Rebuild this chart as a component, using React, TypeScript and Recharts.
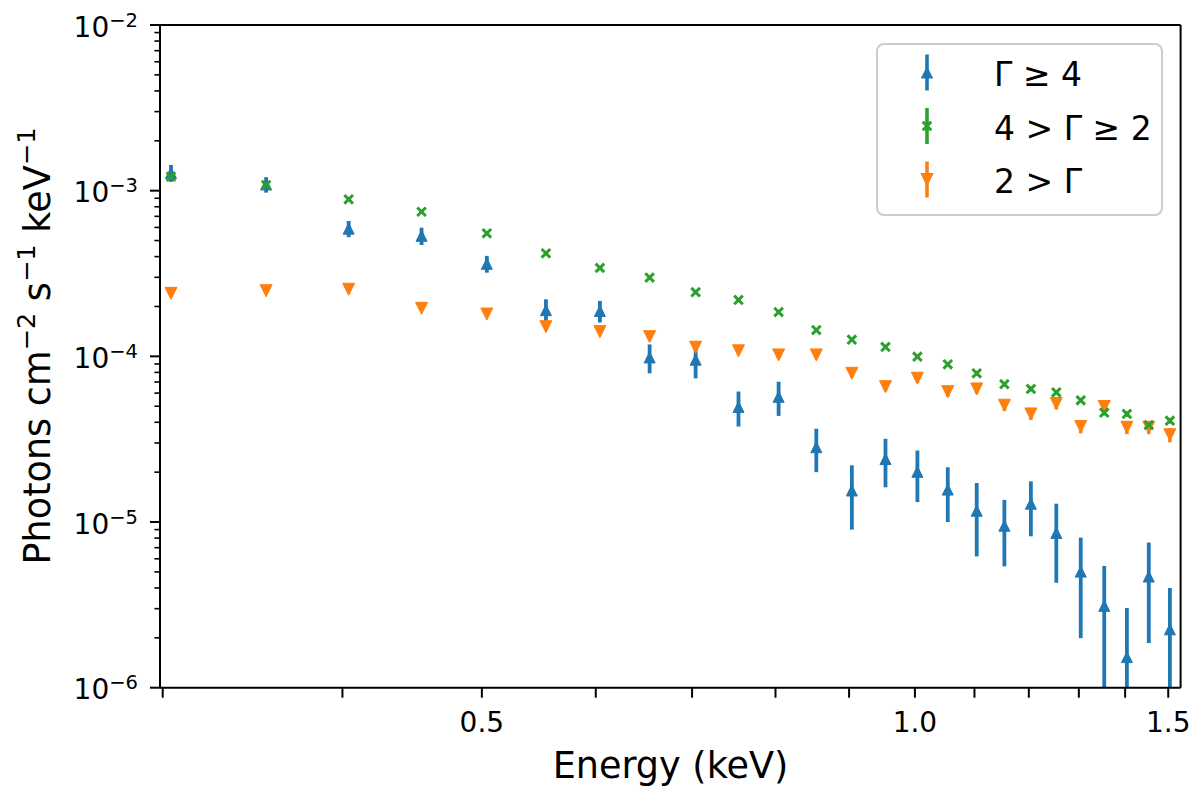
import React from "react";
import {
  ScatterChart,
  Scatter,
  XAxis,
  YAxis,
  ErrorBar,
  ReferenceLine,
  Legend,
  Label,
} from "recharts";

// bin energies (keV)
const energies = [
  0.304, 0.354, 0.404, 0.454, 0.504, 0.554, 0.604, 0.654, 0.704, 0.754, 0.804, 0.854, 0.904,
  0.954, 1.004, 1.054, 1.104, 1.154, 1.204, 1.254, 1.304, 1.354, 1.404, 1.454, 1.504,
];

// Γ ≥ 4
const steepFlux = [
  1.28e-3, 1.09e-3, 5.9e-4, 5.34e-4, 3.62e-4, 1.9e-4, 1.88e-4, 9.85e-5, 9.55e-5, 4.95e-5,
  5.7e-5, 2.83e-5, 1.55e-5, 2.4e-5, 2.01e-5, 1.57e-5, 1.17e-5, 9.5e-6, 1.29e-5, 8.6e-6,
  5.02e-6, 3.12e-6, 1.53e-6, 4.69e-6, 2.25e-6,
];
const steepErr = [
  1.5e-4, 1.17e-4, 6.6e-5, 6.4e-5, 4.2e-5, 3.1e-5, 2.8e-5, 1.95e-5, 2.18e-5, 1.18e-5, 1.33e-5,
  8.3e-6, 6.5e-6, 7.8e-6, 6.9e-6, 5.7e-6, 5.5e-6, 4.1e-6, 4.7e-6, 4.3e-6, 3.03e-6, 2.31e-6,
  1.5e-6, 2.83e-6, 1.75e-6,
];

// 4 > Γ ≥ 2
const midFlux = [
  1.215e-3, 1.082e-3, 8.87e-4, 7.46e-4, 5.53e-4, 4.19e-4, 3.42e-4, 2.99e-4, 2.44e-4, 2.19e-4,
  1.85e-4, 1.44e-4, 1.26e-4, 1.14e-4, 9.95e-5, 8.95e-5, 7.9e-5, 6.79e-5, 6.36e-5, 6.07e-5,
  5.43e-5, 4.57e-5, 4.49e-5, 3.85e-5, 4.09e-5,
];
const midErr = [
  3.5e-5, 3.2e-5, 2.5e-5, 2.1e-5, 1.5e-5, 1.1e-5, 9e-6, 8e-6, 6.5e-6, 6e-6, 5e-6, 4e-6, 3.6e-6,
  3.3e-6, 3e-6, 2.8e-6, 2.5e-6, 2.2e-6, 2.1e-6, 2e-6, 1.9e-6, 1.7e-6, 1.7e-6, 1.5e-6, 1.6e-6,
];

// 2 > Γ
const flatFlux = [
  2.4e-4, 2.49e-4, 2.54e-4, 1.95e-4, 1.8e-4, 1.51e-4, 1.41e-4, 1.315e-4, 1.135e-4, 1.08e-4,
  1.02e-4, 1.02e-4, 7.9e-5, 6.56e-5, 7.38e-5, 6.12e-5, 6.36e-5, 5.07e-5, 4.49e-5, 5.19e-5,
  3.77e-5, 4.98e-5, 3.73e-5, 3.73e-5, 3.36e-5,
];
const flatErr = [
  1e-5, 9e-6, 8.5e-6, 7e-6, 6.5e-6, 6e-6, 5.5e-6, 5.5e-6, 5e-6, 5e-6, 5e-6, 5e-6, 4.5e-6, 4e-6,
  4.5e-6, 4e-6, 4.2e-6, 3.8e-6, 3.6e-6, 4e-6, 3.4e-6, 3.9e-6, 3.4e-6, 3.4e-6, 3.3e-6,
];

const seriesNames = ["Γ ≥ 4", "4 > Γ ≥ 2", "2 > Γ"];

const xTickValues = [0.3, 0.4, 0.5, 0.6, 0.7, 0.8, 0.9, 1.0, 1.1, 1.2, 1.3, 1.4, 1.5];
const xTickLabels = ["", "", "0.5", "", "", "", "", "1.0", "", "", "", "", "1.5"];
const yMajorTicks = [1e-6, 1e-5, 1e-4, 1e-3, 1e-2];
const yMajorExps = ["−6", "−5", "−4", "−3", "−2"];
const yMinorSteps = [2, 3, 4, 5, 6, 7, 8, 9];

const X_DOMAIN: [number, number] = [0.2987, 1.53];
const Y_DOMAIN: [number, number] = [1e-6, 1e-2];

const BLUE = "#1f77b4";
const ORANGE = "#ff7f0e";
const GREEN = "#2ca02c";
const FONT = "'DejaVu Sans', sans-serif";

const yTicks = [
  ...yMajorTicks,
  ...yMajorTicks.slice(0, -1).flatMap((m) => yMinorSteps.map((s) => m * s)),
];

function toPoints(values: number[], errors: number[]) {
  // clip the lower end of each bar to the bottom of the log axis
  return energies.map((x, i) => ({
    x,
    y: values[i],
    err: [Math.min(errors[i], values[i] - Y_DOMAIN[0]), errors[i]],
  }));
}

const steepData = toPoints(steepFlux, steepErr);
const midData = toPoints(midFlux, midErr);
const flatData = toPoints(flatFlux, flatErr);

const TriUp = ({ cx, cy, fill, s = 5.5 }: any) => (
  <path
    d={`M${cx},${cy - s}L${cx - s},${cy + s}L${cx + s},${cy + s}Z`}
    fill={fill}
    stroke={fill}
    strokeWidth={1}
  />
);

const TriDown = ({ cx, cy, fill, s = 6 }: any) => (
  <path
    d={`M${cx},${cy + s}L${cx - s},${cy - s}L${cx + s},${cy - s}Z`}
    fill={fill}
    stroke={fill}
    strokeWidth={1}
  />
);

const Cross = ({ cx, cy, fill, s = 4.3 }: any) => (
  <path
    d={`M${cx - s},${cy - s}L${cx + s},${cy + s}M${cx - s},${cy + s}L${cx + s},${cy - s}`}
    stroke={fill}
    strokeWidth={3}
    fill="none"
  />
);

const XTick = ({ x, y, payload }: any) => {
  const idx = xTickValues.findIndex((v) => Math.abs(v - payload.value) < 1e-9);
  const label = idx >= 0 ? xTickLabels[idx] : "";
  return (
    <g>
      <line x1={x} x2={x} y1={y} y2={y + 10} stroke="#000" strokeWidth={2} />
      {label && (
        <text x={x} y={y + 44.6} textAnchor="middle" fontSize={28} fontFamily={FONT} fill="#000">
          {label}
        </text>
      )}
    </g>
  );
};

const YTick = ({ x, y, payload }: any) => {
  const idx = yMajorTicks.findIndex((v) => Math.abs(v / payload.value - 1) < 1e-6);
  const major = idx >= 0;
  return (
    <g>
      <line
        x1={x - (major ? 10 : 5.6)}
        x2={x}
        y1={y}
        y2={y}
        stroke="#000"
        strokeWidth={major ? 2 : 1.6}
      />
      {major && (
        <text x={x - 22} y={y + 11.5} textAnchor="end" fontSize={28} fontFamily={FONT} fill="#000">
          10
          <tspan dy={-10} fontSize={19.5}>
            {yMajorExps[idx]}
          </tspan>
        </text>
      )}
    </g>
  );
};

const YTitle = () => (
  <text
    x={50}
    y={346}
    transform="rotate(-90, 50, 346)"
    textAnchor="middle"
    fontSize={36.6}
    fontFamily={FONT}
    fill="#000"
  >
    Photons cm
    <tspan dy={-15} fontSize={25.6}>−2</tspan>
    <tspan dy={15}> s</tspan>
    <tspan dy={-15} fontSize={25.6}>−1</tspan>
    <tspan dy={15}> keV</tspan>
    <tspan dy={-15} fontSize={25.6}>−1</tspan>
  </text>
);

const XTitle = () => (
  <text x={670.5} y={778} textAnchor="middle" fontSize={36.6} fontFamily={FONT} fill="#000">
    Energy (keV)
  </text>
);

const legendRows = [
  { name: seriesNames[0], color: BLUE, Marker: TriUp },
  { name: seriesNames[1], color: GREEN, Marker: Cross },
  { name: seriesNames[2], color: ORANGE, Marker: TriDown },
];

const LegendBox = () => (
  <svg width={288} height={174} style={{ display: "block" }}>
    <rect
      x={1}
      y={1}
      width={285}
      height={171}
      rx={7}
      fill="#fff"
      fillOpacity={0.8}
      stroke="#cccccc"
      strokeWidth={2}
    />
    {legendRows.map((r, i) => {
      const cy = 29.5 + i * 53.5;
      return (
        <g key={r.name}>
          <line x1={51} x2={51} y1={cy - 18} y2={cy + 18} stroke={r.color} strokeWidth={3.6} />
          <r.Marker cx={51} cy={cy} fill={r.color} />
          <text x={118} y={cy + 13.5} fontSize={33} fontFamily={FONT} fill="#000">
            {r.name}
          </text>
        </g>
      );
    })}
  </svg>
);

export default function App() {
  return (
    <div
      style={{
        position: "absolute",
        left: 0,
        top: 0,
        width: 1200,
        height: 793,
        background: "#fff",
        fontFamily: FONT,
      }}
    >
      <ScatterChart width={1200} height={793} margin={{ top: 25, right: 19.4, bottom: 0, left: 0 }}>
        <XAxis
          type="number"
          dataKey="x"
          scale="log"
          domain={X_DOMAIN}
          allowDataOverflow
          ticks={xTickValues}
          interval={0}
          tick={<XTick />}
          tickLine={false}
          tickSize={0}
          tickMargin={0}
          height={105.3}
          axisLine={{ stroke: "#000", strokeWidth: 2 }}
        >
          <Label content={<XTitle />} />
        </XAxis>
        <YAxis
          type="number"
          dataKey="y"
          scale="log"
          domain={Y_DOMAIN}
          allowDataOverflow
          ticks={yTicks}
          interval={0}
          tick={<YTick />}
          tickLine={false}
          tickSize={0}
          tickMargin={0}
          width={160}
          axisLine={{ stroke: "#000", strokeWidth: 2 }}
        >
          <Label content={<YTitle />} />
        </YAxis>
        <ReferenceLine y={Y_DOMAIN[1]} stroke="#000" strokeWidth={2} ifOverflow="visible" />
        <ReferenceLine x={X_DOMAIN[1]} stroke="#000" strokeWidth={2} ifOverflow="visible" />
        <Scatter
          name={seriesNames[0]}
          data={steepData}
          fill={BLUE}
          shape={(p: any) => <TriUp cx={p.cx} cy={p.cy} fill={BLUE} />}
          isAnimationActive={false}
        >
          <ErrorBar
            dataKey="err"
            direction="y"
            width={0}
            stroke={BLUE}
            strokeWidth={3.8}
            isAnimationActive={false}
          />
        </Scatter>
        <Scatter
          name={seriesNames[2]}
          data={flatData}
          fill={ORANGE}
          shape={(p: any) => <TriDown cx={p.cx} cy={p.cy} fill={ORANGE} />}
          isAnimationActive={false}
        >
          <ErrorBar
            dataKey="err"
            direction="y"
            width={0}
            stroke={ORANGE}
            strokeWidth={3.6}
            isAnimationActive={false}
          />
        </Scatter>
        <Scatter
          name={seriesNames[1]}
          data={midData}
          fill={GREEN}
          shape={(p: any) => <Cross cx={p.cx} cy={p.cy} fill={GREEN} />}
          isAnimationActive={false}
        >
          <ErrorBar
            dataKey="err"
            direction="y"
            width={0}
            stroke={GREEN}
            strokeWidth={3.6}
            isAnimationActive={false}
          />
        </Scatter>
        <Legend
          layout="vertical"
          align="center"
          verticalAlign="middle"
          content={<LegendBox />}
          wrapperStyle={{ left: 876, top: 43, width: 288, height: 174, right: "auto", bottom: "auto" }}
        />
      </ScatterChart>
    </div>
  );
}
